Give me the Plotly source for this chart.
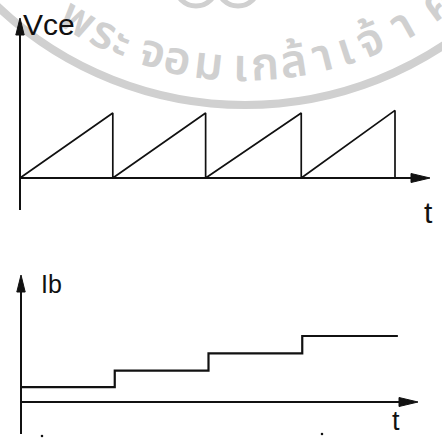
import math
import plotly.graph_objects as go

# ---------------- data ----------------
# top plot: Vce sawtooth (t in periods)
saw_end_times = [0.99, 1.98, 3.0, 4.0]
saw_peaks = [1.0, 1.0, 1.0, 1.04]

# bottom plot: Ib staircase
step_times = [0.0, 1.0, 2.0, 3.0]
step_levels = [0.9, 1.9, 2.95, 4.0]
step_end_time = 4.02

labels_top = ["Vce", "t"]
labels_bottom = ["Ib", "t"]

# watermark text (seal of the institute)
wm_chars = ["พ", "ร", "ะ", "จ", "อ", "ม", "เ", "ก", "ล้", "า", "เ", "จ้", "า", "ค"]
wm_char_x = [77, 103, 122, 152, 177, 208, 240, 265, 293, 323, 345, 370, 403, 437]

# ---------------- traces ----------------
saw_x, saw_y = [0.0], [0.0]
for te, pk in zip(saw_end_times, saw_peaks):
    saw_x += [te, te]
    saw_y += [pk, 0.0]

stp_x, stp_y = [], []
for i, (ts, lv) in enumerate(zip(step_times, step_levels)):
    te = step_times[i + 1] if i + 1 < len(step_times) else step_end_time
    stp_x += [ts, te]
    stp_y += [lv, lv]

W, H = 442, 448
INK = "#111111"
GRAY = "#d0d0d0"

fig = go.Figure()
fig.add_trace(go.Scatter(x=saw_x, y=saw_y, mode="lines", xaxis="x", yaxis="y",
                         line=dict(color=INK, width=1.7), hoverinfo="skip", showlegend=False))
fig.add_trace(go.Scatter(x=stp_x, y=stp_y, mode="lines", xaxis="x2", yaxis="y2",
                         line=dict(color=INK, width=2.2), hoverinfo="skip", showlegend=False))
fig.add_trace(go.Scatter(x=[0], y=[0], mode="markers", xaxis="x3", yaxis="y3",
                         marker=dict(size=1, color="rgba(0,0,0,0)"), hoverinfo="skip",
                         showlegend=False))

# pixel mapping of data axes
top_x0, top_y0, top_tx, top_vy = 20, 178, 93.75, 65.0
bot_x0, bot_y0, bot_tx, bot_iy = 21, 402, 93.75, 16.5

hid = dict(visible=False, fixedrange=True)
fig.update_layout(
    width=W, height=H, margin=dict(l=0, r=0, t=0, b=0),
    paper_bgcolor="white", plot_bgcolor="rgba(0,0,0,0)",
    xaxis=dict(domain=[0, 1], range=[-top_x0 / top_tx, (W - top_x0) / top_tx], anchor="y", **hid),
    yaxis=dict(domain=[0, 1], range=[(top_y0 - H) / top_vy, top_y0 / top_vy], anchor="x", **hid),
    xaxis2=dict(domain=[0, 1], range=[-bot_x0 / bot_tx, (W - bot_x0) / bot_tx], anchor="y2", **hid),
    yaxis2=dict(domain=[0, 1], range=[(bot_y0 - H) / bot_iy, bot_y0 / bot_iy], anchor="x2", **hid),
    xaxis3=dict(domain=[0, 1], range=[0, W], anchor="y3", **hid),
    yaxis3=dict(domain=[0, 1], range=[H, 0], anchor="x3", **hid),
)

shapes = []
annos = []

# ---- watermark ----
cx, cy, r_ring, r_text = 245, -255, 360, 322
shapes.append(dict(type="circle", xref="x3", yref="y3", layer="below",
                   x0=cx - r_ring, x1=cx + r_ring, y0=cy - r_ring, y1=cy + r_ring,
                   line=dict(color=GRAY, width=8)))
for lx in (196, 238):
    shapes.append(dict(type="circle", xref="x3", yref="y3", layer="below",
                       x0=lx - 20, x1=lx + 20, y0=-32, y1=6,
                       line=dict(color=GRAY, width=5)))
for ch, px in zip(wm_chars, wm_char_x):
    phi = math.asin((px - cx) / r_text)
    x = cx + r_text * math.sin(phi)
    y = cy + r_text * math.cos(phi)
    annos.append(dict(x=x, y=y, xref="x3", yref="y3", text=ch, showarrow=False,
                      textangle=-math.degrees(phi), xanchor="center", yanchor="middle",
                      font=dict(family="Noto Sans Thai, Noto Sans, DejaVu Sans, sans-serif",
                                size=46, color=GRAY, weight=600)))

# ---- axes (pixel coords) ----
def hline(x0, x1, y, w=2.0):
    shapes.append(dict(type="line", xref="x3", yref="y3", x0=x0, x1=x1, y0=y, y1=y,
                       line=dict(color=INK, width=w)))

def vline(x, y0, y1, w=2.0):
    shapes.append(dict(type="line", xref="x3", yref="y3", x0=x, x1=x, y0=y0, y1=y1,
                       line=dict(color=INK, width=w)))

def arrow_up(x, ytip, L=17, hw=4.2):
    shapes.append(dict(type="path", xref="x3", yref="y3",
                       path=f"M {x} {ytip} L {x-hw} {ytip+L} L {x+hw} {ytip+L} Z",
                       fillcolor=INK, line=dict(color=INK, width=1)))

def arrow_right(xtip, y, L=19, hw=4.5):
    shapes.append(dict(type="path", xref="x3", yref="y3",
                       path=f"M {xtip} {y} L {xtip-L} {y-hw} L {xtip-L} {y+hw} Z",
                       fillcolor=INK, line=dict(color=INK, width=1)))

# top
vline(top_x0, 210, 30)
arrow_up(top_x0, 18)
hline(top_x0, 416, top_y0)
arrow_right(430, top_y0)
# bottom
vline(bot_x0, 434, 288)
arrow_up(bot_x0, 275)
hline(bot_x0, 404, bot_y0)
arrow_right(418, bot_y0)

# scan dots
for dx, dy in ((42, 436), (322, 434)):
    shapes.append(dict(type="circle", xref="x3", yref="y3", x0=dx - 1.3, x1=dx + 1.3,
                       y0=dy - 1.3, y1=dy + 1.3, fillcolor=INK, line=dict(width=0)))

LBL = dict(family="Liberation Sans, Arial, sans-serif", color=INK)
annos.append(dict(x=21, y=24, xref="x3", yref="y3", text=labels_top[0], showarrow=False,
                  xanchor="left", yanchor="middle", font=dict(size=30, **LBL)))
annos.append(dict(x=428, y=212, xref="x3", yref="y3", text=labels_top[1], showarrow=False,
                  xanchor="center", yanchor="middle", font=dict(size=30, **LBL)))
annos.append(dict(x=39, y=284, xref="x3", yref="y3", text=labels_bottom[0], showarrow=False,
                  xanchor="left", yanchor="middle", font=dict(size=25, **LBL)))
annos.append(dict(x=396, y=421, xref="x3", yref="y3", text=labels_bottom[1], showarrow=False,
                  xanchor="center", yanchor="middle", font=dict(size=27, **LBL)))

fig.update_layout(shapes=shapes, annotations=annos)
fig.write_html("out.html", config={"displayModeBar": False},
               post_script="document.body.style.margin='0';")
